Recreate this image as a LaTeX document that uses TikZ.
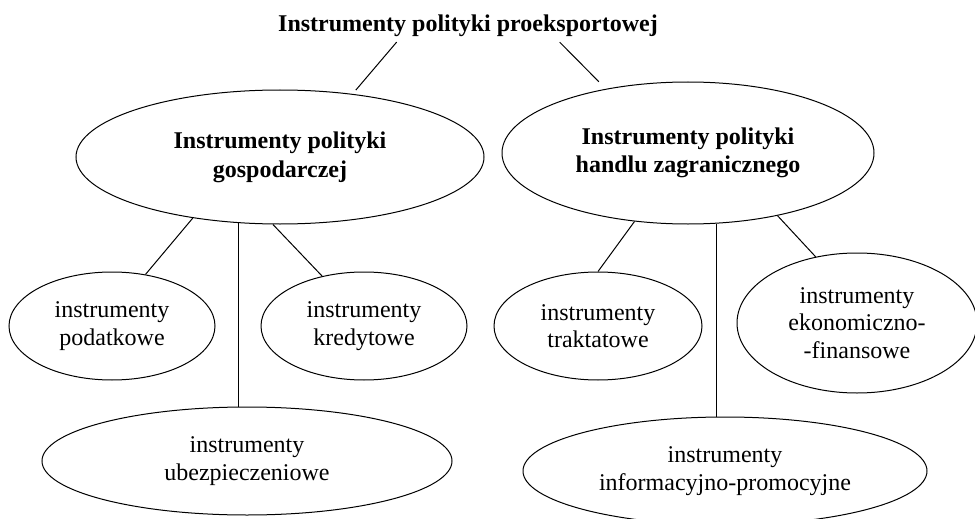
\documentclass[tikz,border=0pt]{standalone}
\usepackage{fontspec}
\setmainfont{Liberation Serif}
\usetikzlibrary{shapes.geometric,calc}

\begin{document}
\begin{tikzpicture}[x=1pt,y=-1pt,
  every node/.style={font=\fontsize{24}{27.5}\selectfont, align=center},
  oval/.style={draw, ellipse, line width=1pt, inner sep=0pt},
  link/.style={line width=1pt}]
\useasboundingbox (0,0) rectangle (975,519);
\node[font=\fontsize{24}{27.5}\selectfont\bfseries, inner sep=5pt] (title) at (468,26) {Instrumenty polityki proeksportowej}; %label
\node[oval, minimum width=408, minimum height=134, font=\fontsize{24}{29}\selectfont\bfseries] (gosp) at (280,157) {Instrumenty polityki\\gospodarczej};
\node[oval, minimum width=372, minimum height=142, font=\fontsize{24}{28}\selectfont\bfseries] (handel) at (688,153) {Instrumenty polityki\\handlu zagranicznego};
\node[oval, minimum width=206, minimum height=108] (podatki) at (112,326) {instrumenty\\podatkowe};
\node[oval, minimum width=206, minimum height=108] (kredyt) at (364,326) {instrumenty\\kredytowe};
\node[oval, minimum width=410, minimum height=108] (ubezp) at (247,461) {instrumenty\\ubezpieczeniowe};
\node[oval, minimum width=208, minimum height=108] (traktat) at (598,326) {instrumenty\\traktatowe};
\node[oval, minimum width=240, minimum height=140] (ekon) at (857,323) {instrumenty\\ekonomiczno-\\-finansowe};
\node[oval, minimum width=404, minimum height=108] (promo) at (725,471) {instrumenty\\informacyjno-promocyjne};
\draw[link, shorten >=5pt] ($(title.south west)!0.317!(title.south east)$) -- (gosp.41);
\draw[link, shorten >=10pt] ($(title.south west)!0.735!(title.south east)$) -- (handel.142);
\draw[link] (gosp.215) -- (podatki.57);
\draw[link] (gosp.238) -- (gosp.238 |- ubezp.north);
\draw[link] (gosp.264) -- (kredyt.130);
\draw[link] (handel.232) -- (traktat.north);
\draw[link] (handel.292) -- (handel.292 |- promo.north);
\draw[link] (handel.325) -- (ekon.122);
\end{tikzpicture}
\end{document}
